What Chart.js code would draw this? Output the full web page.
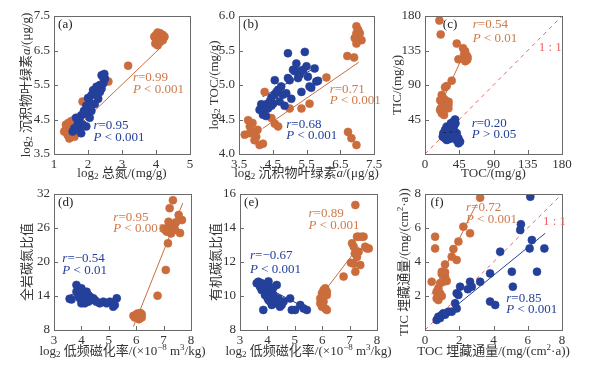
<!DOCTYPE html>
<html lang="zh">
<head>
<meta charset="UTF-8">
<title>碳氮关系散点图</title>
<script src="https://cdn.jsdelivr.net/npm/chart.js"></script>
<style>
  body { margin: 0; background: #fff; }
  #wrap { position: relative; width: 596px; height: 366px; }
  #wrap canvas { position: absolute; left: 0; top: 0; }
</style>
</head>
<body>
<div id="wrap">
  <canvas id="pa" width="596" height="366"></canvas>
  <canvas id="pb" width="596" height="366"></canvas>
  <canvas id="pc" width="596" height="366"></canvas>
  <canvas id="pd" width="596" height="366"></canvas>
  <canvas id="pe" width="596" height="366"></canvas>
  <canvas id="pf" width="596" height="366"></canvas>
</div>
<script>
// ---- data ----
// (a) log2 总氮 vs log2 叶绿素a
const aBlue = [[1.55,4.15],[1.62,4.2],[1.7,4.3],[1.75,4.5],[1.8,4.62],[1.9,4.66],[1.85,4.35],[2.0,4.8],[2.05,5.0],[2.0,5.12],[2.1,5.2],[2.2,5.25],[2.25,5.32],[2.3,5.1],[2.35,5.3],[2.4,5.4],[2.45,5.55],[2.5,5.68],[2.45,5.72],[2.48,5.82],[2.35,5.5],[2.2,4.95],[2.1,4.75],[1.95,4.3],[1.75,4.2],[1.65,4.55],[1.7,4.38],[1.6,4.25],[1.88,4.75],[2.15,5.35],[2.25,5.45],[1.95,4.9],[2.05,4.55],[2.4,5.78],[1.8,4.1]];
const aOrange = [[1.35,4.2],[1.4,4.05],[1.45,3.95],[1.5,4.0],[1.45,4.15],[1.4,4.3],[1.5,4.25],[1.55,4.4],[1.6,4.5],[1.55,4.1],[1.35,4.35],[1.5,4.45],[1.6,4.0],[1.42,4.4],[1.3,4.15],[1.65,4.3],[1.84,5.02],[2.6,5.6],[3.18,6.06],[3.98,6.7],[4.05,6.65],[4.0,6.95],[4.05,7.02],[4.1,6.9],[4.15,6.85],[4.2,6.95],[4.12,7.0],[4.2,6.8],[4.25,6.9],[4.0,6.85],[4.12,6.75],[3.95,6.9]];
const aBlueFit = [[1.6,4.15],[2.5,5.8]];
const aOrangeFit = [[1.45,4.05],[4.15,6.6]];
const aXTicks = [1, 2, 3, 4, 5];
const aYTicks = [3.5, 4.5, 5.5, 6.5, 7.5];

// (b) log2 叶绿素a vs log2 TOC
const bBlue = [[4.11,4.64],[4.16,4.72],[4.21,4.57],[4.26,4.68],[4.31,4.72],[4.36,4.66],[4.41,4.76],[4.46,4.7],[4.46,4.82],[4.51,4.73],[4.56,5.07],[4.56,4.86],[4.61,4.9],[4.66,4.93],[4.7,4.76],[4.75,4.98],[4.8,4.86],[4.85,4.7],[4.9,4.88],[4.95,5.1],[4.95,5.46],[5.0,5.07],[5.05,4.8],[5.1,5.22],[5.15,5.2],[5.2,5.31],[5.25,5.2],[5.3,5.15],[5.35,4.9],[5.4,5.22],[5.45,5.48],[5.5,5.27],[5.54,5.12],[5.59,4.98],[5.64,4.96],[5.74,5.24],[5.79,5.05],[5.84,5.06],[5.25,5.1],[4.3,4.55]];
const bOrange = [[3.67,4.28],[3.77,4.49],[3.82,4.4],[3.82,4.3],[3.91,4.32],[3.96,4.2],[4.01,4.25],[4.11,4.13],[4.21,4.15],[4.26,4.9],[4.46,4.52],[4.56,4.44],[4.66,4.4],[5.0,4.66],[5.35,4.66],[5.59,4.73],[6.09,5.11],[6.71,5.42],[6.91,5.4],[6.98,5.85],[7.03,5.8],[6.98,5.75],[7.08,5.75],[6.93,5.68],[7.03,5.68],[7.13,5.65],[6.98,5.6],[6.73,4.32],[6.83,4.23],[6.98,4.13],[3.9,4.45],[4.05,4.35]];
const bBlueFit = [[4.2,4.83],[5.65,5.22]];
const bOrangeFit = [[4.2,4.37],[7.05,5.33]];
const bXTicks = [3.5, 4.5, 5.5, 6.5, 7.5];
const bYTicks = [4.0, 4.5, 5.0, 5.5, 6.0];

// (c) TOC vs TIC
const cBlue = [[39.5,45],[37.3,42],[40,40],[35.1,37.8],[38,36],[28.5,35.7],[33,33.5],[26.3,31.3],[37.3,31],[24.1,27],[30.7,29],[35.1,29],[39.5,28],[23.3,22.6],[26.3,20.4],[30.7,19.1],[35.1,20.4],[39.5,22.6],[41.7,27],[43.9,20.4],[46.1,16.1],[43.9,13.9],[28.5,18.3],[32.9,27],[37.3,24],[41.7,18],[26,25],[34,40]];
const cOrange = [[18.9,174],[20.6,156],[41.7,144],[43.9,123.5],[35.1,95.7],[50,138],[52.7,134],[51.4,130],[54.9,128],[55.5,123],[53,121],[56,126],[28.5,88.7],[26.3,87],[22,77],[24,72.6],[26.3,70.4],[28.5,68.3],[23.3,66.1],[25,61.7],[30.7,63.9],[19.8,57.4],[22,53],[25,50.9],[30.7,59.6],[21,60],[24,55],[27,65],[31,68],[20,70]];
const cBlueFit = [[24,27.8],[41.7,29.1]];
const cOrangeFit = [[24,72],[48,124]];
const cOneToOne = [[0,0],[180,180]];
const cXTicks = [0, 45, 90, 135, 180];
const cYTicks = [45, 90, 135, 180];

// (d) log2 低频磁化率 vs 全岩碳氮比
const dBlue = [[3.57,13.5],[3.64,13.4],[3.82,15.95],[3.88,15.06],[3.94,14.47],[4.0,15.35],[4.06,14.18],[4.12,13.59],[4.19,14.76],[4.25,13.0],[4.31,13.88],[4.37,13.29],[4.49,13.29],[4.55,13.0],[4.67,12.7],[4.8,13.0],[4.92,12.7],[5.04,13.0],[5.16,12.12],[5.22,12.41],[5.29,13.59],[3.94,13.59],[4.0,12.7],[4.12,12.7],[4.25,14.18],[3.82,14.76],[4.06,13.0],[4.19,13.3],[4.43,13.6],[3.9,14.0]];
const dOrange = [[5.9,10.5],[6.0,10.4],[6.05,10.1],[6.1,10.6],[6.15,10.3],[6.1,9.9],[6.2,10.8],[6.15,11.0],[6.05,10.9],[6.0,10.7],[6.2,10.2],[5.95,10.2],[6.78,14.06],[7.08,18.6],[7.16,23.3],[7.18,25.9],[7.0,25.9],[7.24,25.65],[7.3,26.5],[7.36,26.2],[7.42,26.8],[7.18,27.1],[7.22,29.5],[7.34,30.9],[7.55,28.3],[7.67,27.4],[7.6,25.1],[7.42,25.65],[7.27,25.05],[7.12,25.35],[7.06,25.65],[7.45,27.0]];
const dBlueFit = [[3.6,14.3],[5.3,12.7]];
const dOrangeFit = [[5.9,8.6],[7.7,30.4]];
const dXTicks = [3, 4, 5, 6, 7, 8];
const dYTicks = [8, 14, 20, 26, 32];

// (e) log2 低频磁化率 vs 有机碳氮比
const eBlue = [[3.61,10.75],[3.67,10.84],[3.79,10.75],[3.85,10.55],[3.91,10.65],[3.98,10.45],[4.04,10.86],[4.1,10.35],[4.16,10.25],[4.22,10.06],[3.85,9.18],[3.98,10.06],[4.1,9.67],[4.28,9.57],[4.34,10.65],[4.46,9.37],[4.52,9.47],[4.59,9.67],[4.83,9.86],[4.89,9.18],[5.01,9.18],[5.2,9.47],[5.32,9.27],[5.44,9.18],[3.91,10.06],[3.79,10.35],[3.73,10.55],[4.04,9.76],[4.16,9.47],[4.4,9.86],[4.22,10.5],[4.0,9.9]];
const eOrange = [[5.93,9.86],[5.99,10.16],[6.05,10.35],[6.11,10.45],[6.17,10.06],[6.05,9.67],[5.99,9.37],[6.11,9.27],[6.17,9.18],[5.93,9.57],[6.17,10.25],[6.05,9.96],[6.78,11.14],[7.05,11.95],[7.21,15.35],[7.09,13.1],[7.15,12.9],[7.19,12.5],[7.27,13.49],[7.33,13.49],[7.45,13.49],[7.51,13.49],[7.63,12.8],[7.7,12.8],[7.57,12.9],[7.39,11.82],[7.21,11.43],[7.15,11.9],[7.27,12.3],[7.33,12.6]];
const eBlueFit = [[3.6,10.8],[5.4,9.3]];
const eOrangeFit = [[5.93,9.96],[7.33,12.9]];
const eXTicks = [3, 4, 5, 6, 7, 8];
const eYTicks = [8, 10, 12, 14, 16];

// (f) TOC 埋藏通量 vs TIC 埋藏通量
const fBlue = [[0.68,0.59],[0.78,0.78],[0.98,0.88],[1.07,0.98],[1.37,1.08],[1.56,1.08],[1.76,1.57],[1.85,1.27],[1.85,2.16],[2.05,2.55],[1.95,2.06],[2.63,2.84],[2.73,2.55],[3.22,2.84],[3.8,3.33],[3.8,1.67],[4.1,1.47],[4.39,4.61],[5.07,3.43],[5.13,2.55],[5.56,5.88],[5.6,6.22],[6.15,7.84],[6.11,4.8],[6.24,5.29],[6.54,3.43],[6.97,4.8],[0.88,0.7],[1.17,0.9],[2.5,2.4]];
const fOrange = [[0.39,2.84],[0.59,5.49],[0.59,4.8],[0.68,2.25],[0.68,1.86],[0.78,1.76],[0.88,2.16],[0.78,2.45],[0.88,2.75],[0.98,3.43],[1.07,3.24],[1.17,3.14],[1.07,2.84],[1.27,2.88],[1.17,3.86],[1.56,4.31],[1.66,4.76],[1.85,4.12],[1.95,5.2],[2.24,6.08],[2.63,5.69],[3.22,7.78],[0.98,2.0],[0.98,3.3],[1.17,3.4],[0.78,2.1]];
const fBlueFit = [[0.68,0.49],[7.02,5.69]];
const fOrangeFit = [[0.4,2.1],[3.0,7.4]];
const fOneToOne = [[0,0],[8,8]];
const fXTicks = [0, 2, 4, 6, 8];
const fYTicks = [2, 4, 6, 8];

// ---- style ----
const BLUE = '#24409a';
const ORANGE = '#cb6c3c';
const ORANGE_TXT = '#cf7a4a';
const RED = '#ec6464';
const INK = '#333';
const SERIF = "'Liberation Serif', 'Times New Roman', 'Noto Sans CJK SC', serif";
const FS = 13;

const pts = arr => arr.map(p => ({ x: p[0], y: p[1] }));

function scatterSet(arr, color) {
  return { type: 'scatter', data: pts(arr), backgroundColor: color, borderColor: color,
           borderWidth: 0.6, pointRadius: 4, order: 0 };
}
function lineSet(arr, color, dash, order) {
  return { type: 'line', data: pts(arr), borderColor: color, borderWidth: 1,
           borderDash: dash || [], pointRadius: 0, fill: false, order: order === undefined ? 2 : order };
}

// rich text: parts are [text, style], style '' | 'i' | 'sub' | 'sup'
function partFont(st) {
  if (st === 'sub' || st === 'sup') return '9px ' + SERIF;
  return (st === 'i' ? 'italic ' : '') + FS + 'px ' + SERIF;
}
function partsWidth(ctx, parts) {
  return parts.reduce((w, p) => { ctx.font = partFont(p[1]); return w + ctx.measureText(p[0]).width; }, 0);
}
function drawParts(ctx, parts, x, y, color) {
  let cx = x;
  ctx.fillStyle = color;
  parts.forEach(p => {
    ctx.font = partFont(p[1]);
    const dy = p[1] === 'sub' ? 3 : p[1] === 'sup' ? -4 : 0;
    ctx.fillText(p[0], cx, y + dy);
    cx += ctx.measureText(p[0]).width;
  });
}

// frame, inward ticks, axis titles, panel letter and r / P notes
const decorPlugin = {
  id: 'decor',
  afterDraw(chart) {
    const { ctx, chartArea: a, scales: { x, y } } = chart;
    const o = chart.options.plugins.decor;
    ctx.save();
    ctx.strokeStyle = '#6a6a6a';
    ctx.lineWidth = 1;
    ctx.strokeRect(Math.round(a.left) + 0.5, Math.round(a.top) + 0.5,
                   Math.round(a.right - a.left), Math.round(a.bottom - a.top));
    ctx.beginPath();
    x.ticks.forEach(t => {
      const px = Math.round(x.getPixelForValue(t.value)) + 0.5;
      ctx.moveTo(px, a.bottom); ctx.lineTo(px, a.bottom - 4);
    });
    y.ticks.forEach(t => {
      const py = Math.round(y.getPixelForValue(t.value)) + 0.5;
      ctx.moveTo(a.left, py); ctx.lineTo(a.left + 4, py);
    });
    ctx.stroke();

    ctx.textBaseline = 'middle';
    ctx.textAlign = 'left';
    const w = a.right - a.left, h = a.bottom - a.top;

    // axis titles
    const xw = partsWidth(ctx, o.xTitle);
    drawParts(ctx, o.xTitle, (a.left + a.right) / 2 - xw / 2, o.xTitleY, INK);
    const yw = partsWidth(ctx, o.yTitle);
    ctx.save();
    ctx.translate(o.yTitleX, (a.top + a.bottom) / 2);
    ctx.rotate(-Math.PI / 2);
    drawParts(ctx, o.yTitle, -yw / 2, 0, INK);
    ctx.restore();

    o.notes.forEach(n => drawParts(ctx, n.parts, a.left + n.fx * w, a.top + n.fy * h, n.color));
    ctx.restore();
  }
};

function makePanel(id, box, xs, ys, titles, datasets, notes) {
  const W = 30, H = 20;
  const font = { family: SERIF, size: FS };
  const axis = (s, ticks, dec, horiz) => ({
    type: 'linear', min: s[0], max: s[1],
    afterBuildTicks: sc => { sc.ticks = ticks.map(v => ({ value: v })); },
    afterFit: sc => { if (horiz) sc.height = H; else sc.width = W; },
    grid: { display: false, drawTicks: false },
    border: { display: false },
    ticks: { font, color: INK, padding: horiz ? 3 : 4, autoSkip: false, maxRotation: 0,
             callback: v => dec ? Number(v).toFixed(dec) : String(v) },
    title: { display: false }
  });
  return new Chart(document.getElementById(id), {
    type: 'scatter',
    data: { datasets },
    options: {
      responsive: false, animation: false, events: [],
      layout: { padding: { left: box.L - W, top: box.T, right: 596 - box.R, bottom: 366 - box.B - H } },
      scales: {
        x: axis(xs.range, xs.ticks, xs.dec, true),
        y: axis(ys.range, ys.ticks, ys.dec, false)
      },
      plugins: {
        legend: { display: false }, tooltip: { enabled: false },
        decor: { notes, xTitle: titles[0], yTitle: titles[1], xTitleY: box.xTitleY, yTitleX: box.yTitleX }
      }
    },
    plugins: [decorPlugin]
  });
}

const note = (fx, fy, color, parts) => ({ fx, fy, color, parts });
const rNote = (fx, fy, color, r) => note(fx, fy, color, [['r', 'i'], ['=' + r, '']]);
const pNote = (fx, fy, color, rel, p) => note(fx, fy, color, [['P', 'i'], [' ' + rel + ' ' + p, '']]);
const tag = (t, fx) => note(fx || 0.03, 0.065, '#222', [[t, '']]);

const LOG2 = [['log', ''], ['2', 'sub']];
const tN = [...LOG2, [' 总氮/(mg/g)', '']];
const tChl = [...LOG2, [' 沉积物叶绿素', ''], ['a', 'i'], ['/(μg/g)', '']];
const tTOClog = [...LOG2, [' TOC/(mg/g)', '']];
const tSus = [...LOG2, [' 低频磁化率/(×10', ''], ['−8', 'sup'], [' m', ''], ['3', 'sup'], ['/kg)', '']];
const tTOCflux = [['TOC 埋藏通量/(mg/(cm', ''], ['2', 'sup'], ['·a))', '']];
const tTICflux = [['TIC 埋藏通量/(mg/(cm', ''], ['2', 'sup'], ['·a))', '']];

makePanel('pa', { L: 54, T: 16, R: 190, B: 154, yTitleX: 27, xTitleY: 174 },
  { range: [1, 5], ticks: aXTicks, dec: 0 }, { range: [3.5, 7.5], ticks: aYTicks, dec: 1 },
  [tN, tChl],
  [scatterSet(aBlue, BLUE), scatterSet(aOrange, ORANGE), lineSet(aBlueFit, BLUE), lineSet(aOrangeFit, ORANGE)],
  [tag('(a)'), rNote(0.58, 0.445, ORANGE_TXT, '0.99'), pNote(0.58, 0.536, ORANGE_TXT, '<', '0.001'),
   rNote(0.29, 0.797, BLUE, '0.95'), pNote(0.29, 0.882, BLUE, '<', '0.001')]);

makePanel('pb', { L: 239, T: 16, R: 374, B: 154, yTitleX: 215, xTitleY: 174 },
  { range: [3.5, 7.5], ticks: bXTicks, dec: 1 }, { range: [4, 6], ticks: bYTicks, dec: 1 },
  [tChl, tTOClog],
  [scatterSet(bBlue, BLUE), scatterSet(bOrange, ORANGE), lineSet(bBlueFit, BLUE), lineSet(bOrangeFit, ORANGE)],
  [tag('(b)'), rNote(0.672, 0.531, ORANGE_TXT, '0.71'), pNote(0.672, 0.614, ORANGE_TXT, '<', '0.001'),
   rNote(0.35, 0.785, BLUE, '0.68'), pNote(0.35, 0.87, BLUE, '<', '0.001')]);

makePanel('pc', { L: 425, T: 16, R: 562, B: 154, yTitleX: 398, xTitleY: 174 },
  { range: [0, 180], ticks: cXTicks, dec: 0 }, { range: [0, 180], ticks: cYTicks, dec: 0 },
  [[['TOC/(mg/g)', '']], [['TIC/(mg/g)', '']]],
  [scatterSet(cBlue, BLUE), scatterSet(cOrange, ORANGE), lineSet(cBlueFit, '#222', [3, 3], -1),
   lineSet(cOrangeFit, ORANGE), lineSet(cOneToOne, RED, [4, 4], 3)],
  [tag('(c)', 0.13), rNote(0.349, 0.065, ORANGE_TXT, '0.54'), pNote(0.349, 0.162, ORANGE_TXT, '<', '0.01'),
   note(0.83, 0.227, RED, [['1 : 1', '']]),
   rNote(0.341, 0.778, BLUE, '0.20'), pNote(0.341, 0.862, BLUE, '>', '0.05')]);

makePanel('pd', { L: 54, T: 194, R: 191, B: 330, yTitleX: 28, xTitleY: 352 },
  { range: [3, 8], ticks: dXTicks, dec: 0 }, { range: [8, 32], ticks: dYTicks, dec: 0 },
  [tSus, [['全岩碳氮比值', '']]],
  [scatterSet(dBlue, BLUE), scatterSet(dOrange, ORANGE), lineSet(dBlueFit, BLUE), lineSet(dOrangeFit, ORANGE)],
  [tag('(d)'), rNote(0.433, 0.172, ORANGE_TXT, '0.95'), pNote(0.433, 0.257, ORANGE_TXT, '<', '0.001'),
   rNote(0.061, 0.473, BLUE, '−0.54'), pNote(0.061, 0.564, BLUE, '<', '0.01')]);

makePanel('pe', { L: 240, T: 194, R: 377, B: 330, yTitleX: 217, xTitleY: 352 },
  { range: [3, 8], ticks: eXTicks, dec: 0 }, { range: [8, 16], ticks: eYTicks, dec: 0 },
  [tSus, [['有机碳氮比值', '']]],
  [scatterSet(eBlue, BLUE), scatterSet(eOrange, ORANGE), lineSet(eBlueFit, BLUE), lineSet(eOrangeFit, ORANGE)],
  [tag('(e)'), rNote(0.5, 0.147, ORANGE_TXT, '0.89'), pNote(0.5, 0.235, ORANGE_TXT, '<', '0.001'),
   rNote(0.073, 0.456, BLUE, '−0.67'), pNote(0.073, 0.554, BLUE, '<', '0.001')]);

makePanel('pf', { L: 425, T: 194, R: 562, B: 330, yTitleX: 405, xTitleY: 352 },
  { range: [0, 8], ticks: fXTicks, dec: 0 }, { range: [0, 8], ticks: fYTicks, dec: 0 },
  [tTOCflux, tTICflux],
  [scatterSet(fBlue, BLUE), scatterSet(fOrange, ORANGE), lineSet(fBlueFit, BLUE),
   lineSet(fOrangeFit, ORANGE), lineSet(fOneToOne, RED, [4, 4], 3)],
  [tag('(f)', 0.04), rNote(0.3, 0.1, ORANGE_TXT, '0.72'), pNote(0.3, 0.19, ORANGE_TXT, '<', '0.001'),
   note(0.861, 0.2, RED, [['1 : 1', '']]),
   rNote(0.593, 0.767, BLUE, '0.85'), pNote(0.593, 0.853, BLUE, '<', '0.001')]);
</script>
</body>
</html>
